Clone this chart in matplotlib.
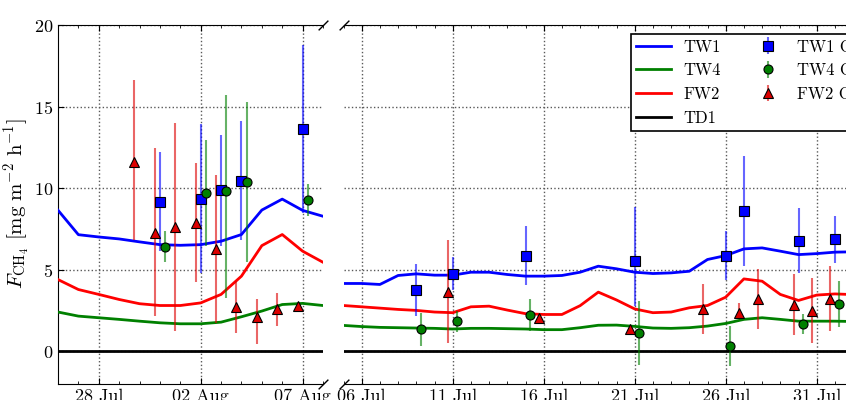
import matplotlib
matplotlib.use("Agg")
import matplotlib.pyplot as plt
import matplotlib.dates as mdates
import pandas as pd

plt.rcParams['font.family'] = 'cmr10'
plt.rcParams['mathtext.fontset'] = 'cm'
plt.rcParams['axes.formatter.use_mathtext'] = True
plt.rcParams['font.size'] = 13

# ── Model runs, first season (left panel) ────────────────────────────────────
days_a = pd.date_range('2013-07-26', '2013-08-08', freq='D')
tw1_a = [8.65, 7.15, 7.01, 6.89, 6.71, 6.54, 6.50, 6.54, 6.75, 7.16, 8.66, 9.33, 8.64, 8.28]
tw4_a = [2.41, 2.16, 2.06, 1.96, 1.85, 1.75, 1.69, 1.69, 1.79, 2.12, 2.47, 2.87, 2.94, 2.81]
fw2_a = [4.40, 3.79, 3.49, 3.18, 2.92, 2.81, 2.81, 2.97, 3.49, 4.61, 6.48, 7.16, 6.14, 5.46]
td1_a = [0.0] * 14

# ── Model runs, second season (right panel) ──────────────────────────────────
days_b = pd.date_range('2014-07-05', '2014-08-02', freq='D')
tw1_b = [4.16, 4.16, 4.10, 4.65, 4.75, 4.67, 4.67, 4.85, 4.85, 4.71, 4.61, 4.61, 4.65, 4.85, 5.22,
         5.06, 4.85, 4.77, 4.81, 4.91, 5.63, 5.87, 6.28, 6.34, 6.14, 5.93, 5.99, 6.08, 6.10]
tw4_b = [1.59, 1.52, 1.47, 1.45, 1.43, 1.41, 1.37, 1.41, 1.41, 1.39, 1.37, 1.33, 1.33, 1.45, 1.60,
         1.61, 1.53, 1.43, 1.41, 1.45, 1.55, 1.71, 1.96, 2.06, 1.96, 1.85, 1.85, 1.85, 1.83]
fw2_b = [2.81, 2.73, 2.65, 2.57, 2.51, 2.41, 2.37, 2.73, 2.77, 2.53, 2.31, 2.26, 2.26, 2.80, 3.63,
         3.15, 2.60, 2.37, 2.41, 2.67, 2.81, 3.32, 4.44, 4.30, 3.49, 3.12, 3.45, 3.52, 3.48]
td1_b = [0.0] * 29

# ── Chamber observations (value, lower, upper) ───────────────────────────────
tw1_obs_t_a = ['2013-07-31 00:00', '2013-08-02 00:00', '2013-08-03 00:00', '2013-08-04 00:00', '2013-08-07 00:00']
tw1_obs_a   = [9.15, 9.36, 9.87, 10.46, 13.62]
tw1_lo_a    = [6.14, 4.81, 6.44, 6.85, 8.48]
tw1_hi_a    = [12.21, 13.93, 13.27, 14.09, 18.78]

tw4_obs_t_a = ['2013-07-31 06:00', '2013-08-02 06:00', '2013-08-03 06:00', '2013-08-04 06:00', '2013-08-07 06:00']
tw4_obs_a   = [6.40, 9.70, 9.80, 10.38, 9.28]
tw4_lo_a    = [5.46, 6.44, 3.28, 5.49, 8.28]
tw4_hi_a    = [7.36, 12.93, 15.74, 15.31, 10.28]

fw2_obs_t_a = ['2013-07-29 18:00', '2013-07-30 18:00', '2013-07-31 18:00', '2013-08-01 18:00', '2013-08-02 18:00',
               '2013-08-03 18:00', '2013-08-04 18:00', '2013-08-05 18:00', '2013-08-06 18:00']
fw2_obs_a   = [11.58, 7.26, 7.60, 7.87, 6.28, 2.73, 2.10, 2.57, 2.81]
fw2_lo_a    = [6.85, 2.16, 1.24, 4.24, 1.75, 1.14, 0.43, 1.55, 2.65]
fw2_hi_a    = [16.64, 12.45, 13.99, 11.53, 10.83, 4.30, 3.22, 3.59, 2.97]

tw1_obs_t_b = ['2014-07-09 00:00', '2014-07-11 00:00', '2014-07-15 00:00', '2014-07-21 00:00',
               '2014-07-26 00:00', '2014-07-27 00:00', '2014-07-30 00:00', '2014-08-01 00:00']
tw1_obs_b   = [3.75, 4.75, 5.87, 5.52, 5.87, 8.60, 6.79, 6.89]
tw1_lo_b    = [2.16, 3.79, 4.04, 2.77, 4.40, 5.26, 4.81, 5.44]
tw1_hi_b    = [5.38, 5.79, 7.71, 8.85, 7.36, 11.99, 8.79, 8.28]

tw4_obs_t_b = ['2014-07-09 06:00', '2014-07-11 06:00', '2014-07-15 06:00', '2014-07-21 06:00',
               '2014-07-26 06:00', '2014-07-30 06:00', '2014-08-01 06:00']
tw4_obs_b   = [1.35, 1.85, 2.24, 1.14, 0.33, 1.69, 2.92]
tw4_lo_b    = [0.33, 1.20, 1.24, -0.86, -0.90, 1.08, 1.50]
tw4_hi_b    = [2.37, 2.47, 3.22, 3.08, 1.57, 2.26, 4.30]

fw2_obs_t_b = ['2014-07-10 18:00', '2014-07-15 18:00', '2014-07-20 18:00', '2014-07-24 18:00', '2014-07-26 18:00',
               '2014-07-27 18:00', '2014-07-29 18:00', '2014-07-30 18:00', '2014-07-31 18:00']
fw2_obs_b   = [3.63, 2.06, 1.39, 2.57, 2.37, 3.18, 2.87, 2.47, 3.22]
fw2_lo_b    = [0.53, 1.90, 1.25, 1.08, 1.96, 1.39, 1.00, 0.53, 1.24]
fw2_hi_b    = [6.85, 2.22, 1.52, 4.10, 2.97, 5.02, 4.77, 4.50, 5.22]

W, H = 846, 400
fig = plt.figure(figsize=(W / 100, H / 100), dpi=100)

# axes boxes in pixels; the right panel runs past the figure edge
ax1 = fig.add_axes([58 / W, 1 - 384 / H, 265 / W, 359 / H])
ax2 = fig.add_axes([343.5 / W, 1 - 384 / H, 546 / W, 359 / H])


def draw(ax, days, tw1, tw4, fw2, td1, obs):
    ax.plot(days, tw1, color='b', lw=2, label='TW1', zorder=3)
    ax.plot(days, tw4, color='g', lw=2, label='TW4', zorder=3)
    ax.plot(days, fw2, color='r', lw=2, label='FW2', zorder=3)
    ax.plot(days, td1, color='k', lw=2, label='TD1', zorder=3)
    for t, v, lo, hi, c, m, lab in obs:
        t = pd.to_datetime(t)
        err = [[a - b for a, b in zip(v, lo)], [b - a for a, b in zip(v, hi)]]
        ax.errorbar(t, v, yerr=err, fmt=m, color=c, ecolor=(*matplotlib.colors.to_rgb(c), 0.6),
                    elinewidth=1.5, capsize=0, markersize=6.5, mec='k', mew=0.8,
                    label=lab, zorder=4)


draw(ax1, days_a, tw1_a, tw4_a, fw2_a, td1_a, [
    (tw1_obs_t_a, tw1_obs_a, tw1_lo_a, tw1_hi_a, 'b', 's', 'TW1 Obs.'),
    (tw4_obs_t_a, tw4_obs_a, tw4_lo_a, tw4_hi_a, 'g', 'o', 'TW4 Obs.'),
    (fw2_obs_t_a, fw2_obs_a, fw2_lo_a, fw2_hi_a, '#dd0000', '^', 'FW2 Obs.'),
])
draw(ax2, days_b, tw1_b, tw4_b, fw2_b, td1_b, [
    (tw1_obs_t_b, tw1_obs_b, tw1_lo_b, tw1_hi_b, 'b', 's', 'TW1 Obs.'),
    (tw4_obs_t_b, tw4_obs_b, tw4_lo_b, tw4_hi_b, 'g', 'o', 'TW4 Obs.'),
    (fw2_obs_t_b, fw2_obs_b, fw2_lo_b, fw2_hi_b, '#dd0000', '^', 'FW2 Obs.'),
])

ax1.set_xlim(pd.Timestamp('2013-07-26'), pd.Timestamp('2013-08-08'))
ax2.set_xlim(pd.Timestamp('2014-07-05'), pd.Timestamp('2014-08-04'))
ax1.set_xticks(pd.date_range('2013-07-28', periods=3, freq='5D'))
ax2.set_xticks(pd.date_range('2014-07-06', periods=6, freq='5D'))

for ax in (ax1, ax2):
    ax.set_ylim(-2, 20)
    ax.set_yticks([0, 5, 10, 15, 20])
    ax.xaxis.set_minor_locator(mdates.DayLocator())
    ax.xaxis.set_major_formatter(mdates.DateFormatter('%d %b'))
    ax.grid(True, which='major', color='0.35', linestyle=':', linewidth=1)
    ax.set_axisbelow(True)
    ax.tick_params(which='both', direction='in', top=True, bottom=True, labelsize=13)
    ax.tick_params(which='major', length=4)
    ax.tick_params(which='minor', length=2)

ax1.spines['right'].set_visible(False)
ax2.spines['left'].set_visible(False)
ax1.tick_params(axis='y', right=False)
ax2.tick_params(axis='y', left=False, right=False, labelleft=False)

# break marks
kw = dict(marker=[(-1, -1), (1, 1)], markersize=7, linestyle='none',
          color='k', mec='k', mew=1, clip_on=False)
ax1.plot([1, 1], [0, 1], transform=ax1.transAxes, **kw)
ax2.plot([0, 0], [0, 1], transform=ax2.transAxes, **kw)

fig.text(16.5 / W, 1 - 204 / H, r'$F_{\mathrm{CH_4}}\ [\mathrm{mg\ m^{-2}\ h^{-1}}]$',
         rotation=90, ha='center', va='center', fontsize=15)

leg = ax2.legend(loc='upper left', bbox_to_anchor=(630.5 / W, 1 - 33.5 / H),
                 bbox_transform=fig.transFigure, ncol=2, fontsize=12, borderaxespad=0,
                 handlelength=2.1, handletextpad=0.7, columnspacing=1.8,
                 borderpad=0.35, fancybox=False, framealpha=1)
leg.get_frame().set_edgecolor('k')
leg.get_frame().set_linewidth(1.2)

fig.savefig('out.png', dpi=100)
